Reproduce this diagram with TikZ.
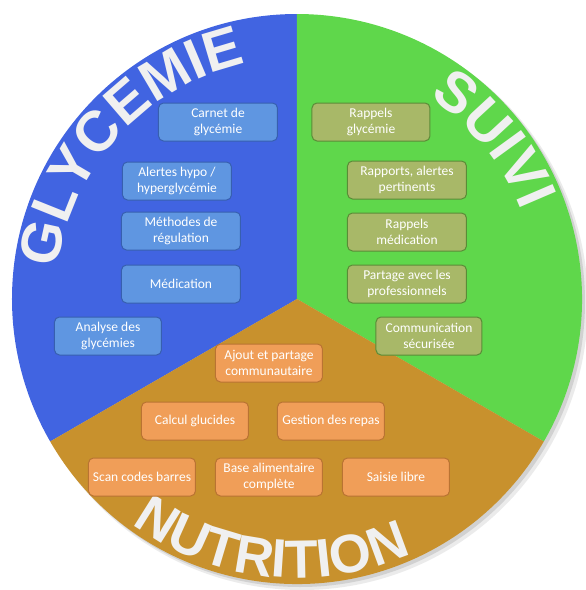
\documentclass[tikz,border=0pt]{standalone}
\usepackage{fontspec}
\setmainfont{Carlito}
\newfontfamily\titlefont{Liberation Sans}
\usetikzlibrary{decorations.text}

\definecolor{glyc}{RGB}{65,100,225}
\definecolor{suivi}{RGB}{95,215,75}
\definecolor{nutri}{RGB}{200,145,45}
\definecolor{glycfill}{RGB}{95,150,225}
\definecolor{glycline}{RGB}{55,95,175}
\definecolor{suivifill}{RGB}{168,184,104}
\definecolor{suiviline}{RGB}{90,140,55}
\definecolor{nutrifill}{RGB}{240,158,88}
\definecolor{nutriline}{RGB}{185,115,50}

\tikzset{
  box/.style={draw, rounded corners=5pt, line width=1pt, text=white, align=center,
    minimum height=38pt, minimum width=119pt, inner sep=2pt,
    font=\fontsize{13.5}{16}\selectfont},
  glycbox/.style={box, fill=glycfill, draw=glycline},
  suivibox/.style={box, fill=suivifill, draw=suiviline},
  nutribox/.style={box, fill=nutrifill, draw=nutriline, minimum width=107pt},
  title/.style 2 args={decorate, decoration={text along path, text align=center,
    text={|\titlefont\bfseries\fontsize{#1}{#1}\selectfont\color{white!94!black}|#2}}}
}

\begin{document}
\begin{tikzpicture}[x=1pt, y=1pt]

\useasboundingbox (-297,-291) rectangle (289,299);

\pgfmathsetmacro\r{285}

% shadow of the wheel
\fill[black!8] (5,-5) circle (\r+1);
\fill[black!18] (3,-3) circle (\r);

% plot the three parts
\fill[glyc] (0,0) -- (90:\r) arc[start angle=90, end angle=210, radius=\r] -- cycle;
\fill[suivi] (0,0) -- (-30:\r) arc[start angle=-30, end angle=90, radius=\r] -- cycle;
\fill[nutri] (0,0) -- (210:\r) arc[start angle=210, end angle=330, radius=\r] -- cycle;

% curved titles
\path[title={57}{GLYCEMIE}] (177:241) arc[start angle=177, end angle=98, radius=241];
\path[title={57}{SUIVI}] (70:241) arc[start angle=70, end angle=8, radius=241];
\path[title={54}{NUTRITION}] (224:279) arc[start angle=224, end angle=304, radius=279];

% glycemie
\node[glycbox] (carnet) at (-79,177) {Carnet de\\glycémie};
\node[glycbox, minimum width=109pt] (alertes) at (-120,118) {Alertes hypo /\\hyperglycémie};
\node[glycbox] (methodes) at (-116,68) {Méthodes de\\régulation};
\node[glycbox] (medication) at (-116,15) {Médication};
\node[glycbox, minimum width=107pt] (analyse) at (-189,-37) {Analyse des\\glycémies};

% suivi
\node[suivibox, minimum width=118pt] (rappels_glyc) at (74,177) {Rappels\\glycémie};
\node[suivibox] (rapports) at (110,119) {Rapports, alertes\\pertinents};
\node[suivibox] (rappels_med) at (110,67) {Rappels\\médication};
\node[suivibox] (partage) at (110,15) {Partage avec les\\professionnels};
\node[suivibox, minimum width=106pt] (communication) at (132,-37) {Communication\\sécurisée};

% nutrition
\node[nutribox] (ajout) at (-28,-64) {Ajout et partage\\communautaire};
\node[nutribox] (calcul) at (-102,-122) {Calcul glucides};
\node[nutribox] (gestion) at (34,-122) {Gestion des repas};
\node[nutribox] (scan) at (-155,-178) {Scan codes barres};
\node[nutribox] (base) at (-28,-178) {Base alimentaire\\complète};
\node[nutribox] (saisie) at (99,-178) {Saisie libre};

\end{tikzpicture}
\end{document}
